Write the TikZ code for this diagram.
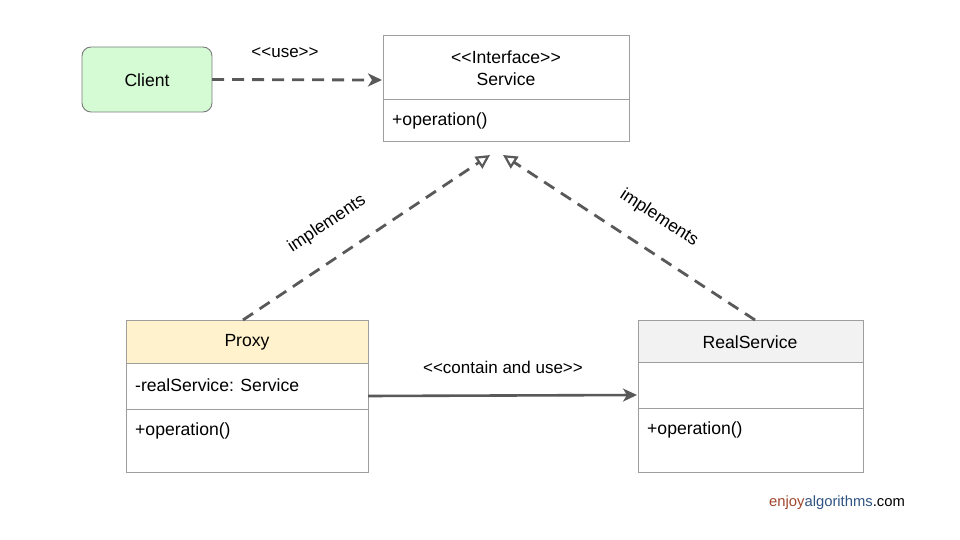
\documentclass[tikz,border=0pt]{standalone}
\usepackage{fontspec}
\setmainfont{Liberation Sans}
\usetikzlibrary{arrows.meta}
\definecolor{linegray}{HTML}{595959}
\definecolor{boxgray}{HTML}{9E9E9E}
\definecolor{clientgreen}{HTML}{D5FBD5}
\definecolor{proxyyellow}{HTML}{FFF2CC}
\definecolor{realgray}{HTML}{F2F2F2}
\definecolor{enjoycol}{HTML}{A0452C}
\definecolor{algocol}{HTML}{2F5383}
\tikzset{
  box/.style={draw=boxgray, line width=0.9pt, inner sep=0pt, outer sep=0pt},
  txt/.style={font=\fontsize{17.6}{20}\selectfont, inner sep=0pt, text=black},
  lbl/.style={font=\fontsize{17}{19}\selectfont, inner sep=0pt, text=black},
  dashconn/.style={draw=linegray, line width=2.8pt, dash pattern=on 12pt off 8pt},
  solidconn/.style={draw=linegray, line width=2.6pt},
}
\begin{document}
\begin{tikzpicture}[x=1pt,y=-1pt]
\useasboundingbox (0,0) rectangle (960,540);
% Client
\node[box, draw=linegray!80, fill=clientgreen, rounded corners=9pt, minimum width=130pt, minimum height=65pt, anchor=north west] (client) at (82,47) {};
\node[txt] (clientt) at (147,80) {Client};
% Service
\node[box, minimum width=246pt, minimum height=106pt, anchor=north west] (service) at (383,35) {};
\draw[boxgray, line width=0.9pt] (383,99) coordinate (sd1) -- (629,99) coordinate (sd2);
\node[txt] (s1) at (506,57) {<\kern0pt<Interface>\kern0pt>};
\node[txt] (s2) at (506,79) {Service};
\node[txt, anchor=west] (s3) at (392,121) {+operation()};
% Proxy
\node[box, fill=proxyyellow, minimum width=242pt, minimum height=43pt, anchor=north west] (proxyh) at (126,320) {};
\node[box, minimum width=242pt, minimum height=109pt, anchor=north west] (proxyb) at (126,363) {};
\draw[boxgray, line width=0.9pt] (126,409) coordinate (pd1) -- (368,409) coordinate (pd2);
\node[txt] (p1) at (247,342) {Proxy};
\node[txt, anchor=west] (p2) at (135,385) {-realService: Service};
\node[txt, anchor=west] (p3) at (135,431) {+operation()};
% RealService
\node[box, fill=realgray, minimum width=225pt, minimum height=42pt, anchor=north west] (realh) at (638,320) {};
\node[box, minimum width=225pt, minimum height=110pt, anchor=north west] (realb) at (638,362) {};
\draw[boxgray, line width=0.9pt] (638,408) coordinate (rd1) -- (863,408) coordinate (rd2);
\node[txt] (r1) at (750,342) {RealService};
\node[txt, anchor=west] (r3) at (647,430) {+operation()};
% connectors
\coordinate (tipA) at (490,155);
\coordinate (tipB) at (503,155);
\draw[dashconn, -{Stealth[length=14pt,width=13pt,inset=4pt]}] (client.east) -- (382,80);
\draw[dashconn, -{Triangle[open,length=14pt,width=14pt,line width=2.2pt]}] (243,320) -- (tipA);
\draw[dashconn, -{Triangle[open,length=14pt,width=14pt,line width=2.2pt]}] (755,320) -- (tipB);
\draw[solidconn, -{Stealth[length=14pt,width=13pt,inset=4pt]}] (proxyb.east |- 0,396) -- (637,395);
% labels
\node[lbl] (luse) at (285,53) {<\kern0pt<use>\kern0pt>};
\node[lbl] (lcont) at (503,367) {<\kern0pt<contain and use>\kern0pt>};
\node[lbl, font=\fontsize{17.5}{20}\selectfont, rotate=33.7] (limp1) at (327,224) {implements};
\node[lbl, font=\fontsize{17.5}{20}\selectfont, rotate=-33.2] (limp2) at (659,218) {implements};
% logo
\node[font=\fontsize{14.8}{17}\selectfont, inner sep=0pt] (logo) at (837,503) {\textcolor{enjoycol}{enjoy}\textcolor{algocol}{algorithms}.com};
\end{tikzpicture}
\end{document}
